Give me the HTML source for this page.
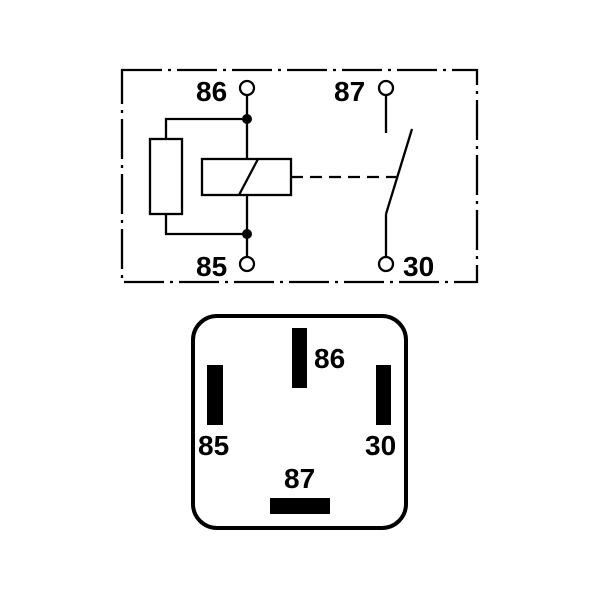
<!DOCTYPE html>
<html><head><style>
html,body{margin:0;padding:0;background:#fff;}
svg{display:block}
text{font-family:"Liberation Sans",Arial,sans-serif;font-size:28px;font-weight:bold;fill:#000;}
</style></head><body>
<svg width="600" height="600" viewBox="0 0 600 600" xmlns="http://www.w3.org/2000/svg">
<g fill="none" stroke="#000" stroke-width="2.3">
<rect x="122" y="70" width="355" height="212" stroke-dasharray="40,6,3,6"/>
<line x1="247" y1="95" x2="247" y2="159"/>
<line x1="247" y1="195" x2="247" y2="257"/>
<polyline points="247,119 166,119 166,139"/>
<polyline points="247,234 166,234 166,214"/>
<rect x="150" y="139" width="32" height="75"/>
<rect x="202" y="159" width="89" height="36"/>
<line x1="239" y1="195" x2="258" y2="159"/>
<line x1="291" y1="177" x2="398" y2="177" stroke-dasharray="12,7"/>
<line x1="386" y1="95" x2="386" y2="133"/>
<line x1="386" y1="257" x2="386" y2="214"/>
<line x1="386" y1="214" x2="412" y2="129"/>
<circle cx="247" cy="88" r="7"/>
<circle cx="247" cy="264" r="7"/>
<circle cx="386" cy="88" r="7"/>
<circle cx="386" cy="264" r="7"/>
<rect x="193" y="316" width="213" height="212" rx="24" stroke-width="4"/>
</g>
<circle cx="247" cy="119" r="5"/>
<circle cx="247" cy="234" r="5"/>
<rect x="292" y="328" width="15" height="60"/>
<rect x="207" y="365" width="16" height="60"/>
<rect x="376" y="365" width="15" height="60"/>
<rect x="270" y="498" width="60" height="16"/>
<text x="196" y="101">86</text>
<text x="334" y="101">87</text>
<text x="196" y="276">85</text>
<text x="403" y="276">30</text>
<text x="314" y="368">86</text>
<text x="198" y="455">85</text>
<text x="365" y="455">30</text>
<text x="284" y="488">87</text>
</svg>
</body></html>
